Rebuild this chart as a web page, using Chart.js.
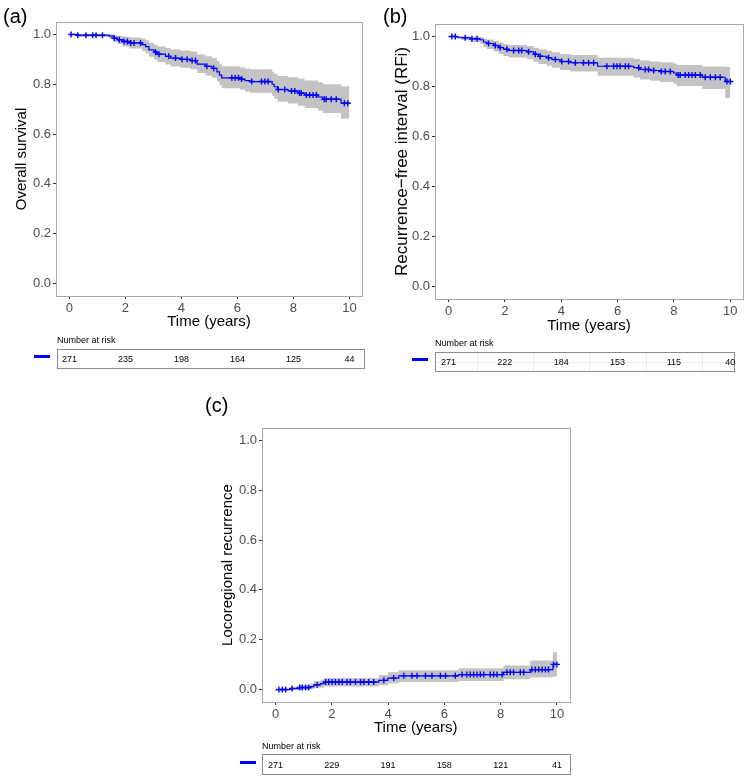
<!DOCTYPE html>
<html><head><meta charset="utf-8">
<script src="https://cdn.jsdelivr.net/npm/chart.js@4.4.0/dist/chart.umd.min.js"></script>
<style>
body{margin:0;background:#fff;width:750px;height:780px;position:relative;overflow:hidden;font-family:"Liberation Sans",Arial,sans-serif;color:#000;}
canvas{position:absolute;}
.lbl{position:absolute;font-size:20px;line-height:20px;}
.nar{position:absolute;font-size:9px;line-height:12px;}
.box{position:absolute;border:1px solid #8c8c8c;box-sizing:border-box;}
.num{position:absolute;font-size:9px;line-height:12px;transform:translate(-50%,-50%);white-space:nowrap;}
.dash{position:absolute;height:3px;background:#0000ff;}
.gl{position:absolute;background:#ececec;}
</style></head><body>
<script>
const F = '"Liberation Sans", Arial, sans-serif';
const xTicks = [0, 2, 4, 6, 8, 10];
const yTicks = [0, 0.2, 0.4, 0.6, 0.8, 1.0];
const riskTimes = [0, 2, 4, 6, 8, 10];

// (a) Overall survival
const osTime  = [0, 0.3, 1.42, 1.6, 1.72, 1.9, 2.13, 2.6, 2.72, 2.84, 3.02, 3.14, 3.43, 3.61, 3.96, 4.32, 4.56, 4.85, 5.09, 5.27, 5.36, 5.44, 6.09, 6.27, 6.45, 7.24, 7.31, 7.43, 7.81, 8.17, 8.4, 8.88, 9.05, 9.7, 10.0];
const osEst   = [1, .997, .993, .985, .979, .972, .966, .959, .951, .938, .929, .921, .912, .905, .900, .895, .881, .872, .864, .850, .837, .826, .821, .815, .811, .800, .790, .779, .773, .765, .757, .749, .740, .724, .724];
const osLower = [1, .990, .983, .970, .962, .952, .944, .934, .925, .910, .899, .889, .879, .871, .866, .860, .845, .835, .826, .810, .796, .784, .778, .771, .766, .754, .742, .730, .723, .714, .705, .695, .685, .663, .663];
const osUpper = [1, 1, 1, .998, .995, .992, .988, .983, .977, .967, .960, .953, .946, .940, .936, .932, .920, .912, .905, .893, .882, .872, .868, .863, .860, .850, .842, .833, .828, .822, .815, .808, .800, .792, .792];
const osCensor = [0.06, 0.30, 0.59, 0.83, 0.95, 1.18, 1.60, 1.78, 1.95, 2.07, 2.19, 2.31, 2.54, 3.08, 3.20, 3.55, 3.79, 4.02, 4.20, 4.38, 4.50, 4.91, 5.15, 5.80, 5.92, 6.04, 6.15, 6.51, 6.86, 6.98, 7.10, 7.46, 7.69, 7.93, 8.05, 8.22, 8.28, 8.46, 8.58, 8.70, 8.82, 9.10, 9.17, 9.35, 9.53, 9.82, 9.94];
const osRisk = [271, 235, 198, 164, 125, 44];

// (b) Recurrence-free interval
const rfTime  = [0, 0.3, 0.47, 0.77, 1.12, 1.24, 1.36, 1.6, 1.78, 1.95, 2.13, 2.78, 3.02, 3.2, 3.49, 3.67, 3.96, 4.32, 5.29, 6.57, 6.8, 7.16, 7.51, 7.99, 8.1, 9.0, 9.82, 10.0];
const rfEst   = [1, .997, .995, .991, .987, .978, .972, .964, .956, .949, .944, .939, .929, .921, .915, .908, .900, .895, .881, .875, .868, .864, .860, .854, .846, .837, .820, .820];
const rfLower = [1, .990, .986, .978, .970, .957, .950, .940, .930, .922, .916, .910, .899, .890, .883, .875, .866, .860, .843, .836, .828, .823, .818, .811, .802, .790, .754, .754];
const rfUpper = [1, 1, 1, 1, .998, .992, .988, .982, .976, .970, .966, .962, .955, .948, .943, .937, .930, .926, .915, .910, .904, .900, .897, .892, .886, .880, .878, .878];
const rfCensor = [0.12, 0.24, 0.59, 0.83, 1.01, 1.42, 1.66, 1.83, 2.07, 2.31, 2.49, 2.60, 2.84, 3.08, 3.25, 3.55, 3.79, 4.02, 4.26, 4.50, 4.79, 4.97, 5.15, 5.62, 5.86, 5.98, 6.09, 6.27, 6.39, 6.75, 6.98, 7.10, 7.28, 7.55, 7.69, 7.87, 8.15, 8.22, 8.40, 8.52, 8.64, 8.76, 8.93, 9.11, 9.29, 9.47, 9.64, 9.88, 10.0];
const rfRisk = [271, 222, 184, 153, 115, 40];

// (c) Locoregional recurrence
const lrTime  = [0, 0.53, 0.83, 1.24, 1.36, 1.6, 1.72, 3.67, 3.99, 4.38, 6.5, 8.1, 9.05, 9.86, 10.0];
const lrEst   = [0, .004, .008, .012, .019, .024, .030, .037, .046, .055, .060, .069, .080, .101, .101];
const lrLower = [0, 0, 0, .001, .005, .008, .012, .017, .024, .030, .034, .041, .048, .052, .052];
const lrUpper = [0, .011, .017, .023, .033, .039, .046, .058, .069, .077, .085, .097, .117, .150, .150];
const lrCensor = [0.12, 0.24, 0.36, 0.59, 0.86, 0.95, 1.07, 1.18, 1.48, 1.78, 1.89, 2.01, 2.13, 2.25, 2.37, 2.54, 2.66, 2.84, 3.02, 3.14, 3.31, 3.49, 3.85, 4.20, 4.56, 4.85, 5.03, 5.33, 5.56, 5.86, 6.04, 6.39, 6.63, 6.80, 6.92, 7.04, 7.16, 7.28, 7.40, 7.63, 7.75, 7.87, 8.05, 8.22, 8.34, 8.46, 8.70, 8.82, 9.11, 9.23, 9.35, 9.47, 9.59, 9.70, 9.88, 10.0];
const lrRisk = [271, 229, 191, 158, 121, 41];

function stepAt(times, vals, t) {
  let v = vals[0];
  for (let i = 0; i < times.length; i++) if (times[i] <= t) v = vals[i];
  return v;
}
function pts(times, vals) { return times.map((t, i) => ({x: t, y: vals[i]})); }

const boxPlugin = {
  id: 'panelBox',
  afterDatasetsDraw(chart) {
    const a = chart.chartArea, ctx = chart.ctx;
    ctx.save();
    ctx.strokeStyle = '#a8a8a8';
    ctx.lineWidth = 1;
    ctx.strokeRect(Math.round(a.left) + 0.5, Math.round(a.top) + 0.5, Math.round(a.right - a.left), Math.round(a.bottom - a.top));
    ctx.restore();
  }
};

function el(cls, style, text) {
  const d = document.createElement('div');
  d.className = cls;
  Object.assign(d.style, style);
  if (text !== undefined) d.textContent = text;
  document.body.appendChild(d);
  return d;
}

function makePanel(p) {
  const c = document.createElement('canvas');
  c.width = p.w; c.height = p.h;
  c.style.left = p.left + 'px'; c.style.top = p.top + 'px';
  c.style.width = p.w + 'px'; c.style.height = p.h + 'px';
  document.body.appendChild(c);
  const chart = new Chart(c, {
    type: 'scatter',
    data: {datasets: [
      {data: pts(p.time, p.lower), order: 4, showLine: true, stepped: true, borderColor: 'rgba(0,0,0,0)', borderWidth: 0, pointRadius: 0, fill: false},
      {data: pts(p.time, p.upper), order: 3, showLine: true, stepped: true, borderColor: 'rgba(0,0,0,0)', borderWidth: 0, pointRadius: 0, fill: '-1', backgroundColor: '#c3c3c3'},
      {data: pts(p.time, p.est), order: 2, showLine: true, stepped: true, borderColor: '#0000ff', borderWidth: 1.2, pointRadius: 0, fill: false},
      {data: p.censor.map(t => ({x: t, y: stepAt(p.time, p.est, t)})), order: 1, showLine: false, pointStyle: 'cross', pointRadius: 3, borderColor: '#0000ff', backgroundColor: '#0000ff', borderWidth: 1.4}
    ]},
    options: {
      animation: false, responsive: false, events: [],
      plugins: {legend: {display: false}, tooltip: {enabled: false}},
      layout: {padding: {top: p.padTop, right: p.padRight, left: 0, bottom: 0}},
      scales: {
        x: {
          type: 'linear', min: -0.48, max: 10.45,
          afterBuildTicks: s => { s.ticks = xTicks.map(v => ({value: v})); },
          afterFit: s => { s.height = 44; },
          grid: {drawOnChartArea: false, drawTicks: true, tickLength: 3, color: '#333'},
          border: {display: false},
          ticks: {padding: 2, color: '#4d4d4d', font: {size: 13, family: F}, callback: v => String(v), maxRotation: 0},
          title: {display: true, text: 'Time (years)', color: '#000', font: {size: 15, family: F}, padding: {top: 0, bottom: p.xTitlePad}}
        },
        y: {
          type: 'linear', min: -0.05, max: 1.05,
          afterBuildTicks: s => { s.ticks = yTicks.map(v => ({value: v})); },
          afterFit: s => { s.width = p.yWidth; },
          grid: {drawOnChartArea: false, drawTicks: true, tickLength: 3, color: '#333'},
          border: {display: false},
          ticks: {padding: 2, color: '#4d4d4d', font: {size: 13, family: F}, callback: v => Number(v).toFixed(1)},
          title: {display: true, text: p.yTitle, color: '#000', font: {size: p.yTitleSize, family: F}, padding: {top: p.yTitlePad, bottom: 0}}
        }
      }
    },
    plugins: [boxPlugin]
  });
  el('lbl', {left: p.tag.x + 'px', top: p.tag.y + 'px'}, p.tag.text);
  el('nar', {left: p.risk.x + 'px', top: (p.risk.narY - 6) + 'px'}, 'Number at risk');
  el('box', {left: p.risk.x + 'px', top: p.risk.y + 'px', width: p.risk.w + 'px', height: p.risk.h + 'px'});
  if (p.risk.grid) {
    const xs = chart.scales.x;
    [1, 3, 5, 7, 9].forEach(t => {
      el('gl', {left: Math.round(p.left + xs.getPixelForValue(t)) + 'px', top: (p.risk.y + 1) + 'px', width: '1px', height: (p.risk.h - 2) + 'px'});
    });
    el('gl', {left: (p.risk.x + 1) + 'px', top: (p.risk.y + Math.round(p.risk.h / 2)) + 'px', width: (p.risk.w - 2) + 'px', height: '1px'});
  }
  riskTimes.forEach((t, i) => {
    const px = p.left + chart.scales.x.getPixelForValue(t);
    el('num', {left: px + 'px', top: (p.risk.y + p.risk.h / 2) + 'px'}, String(p.riskVals[i]));
  });
  el('dash', {left: p.risk.dashX + 'px', top: (p.risk.y + p.risk.h / 2 - 4) + 'px', width: '16px'});
}

makePanel({left: 0, top: 0, w: 370, h: 340, padTop: 22, padRight: 8, yWidth: 56, xTitlePad: 9, yTitlePad: 13, yTitleSize: 15,
  yTitle: 'Overall survival', time: osTime, est: osEst, lower: osLower, upper: osUpper, censor: osCensor, riskVals: osRisk,
  tag: {text: '(a)', x: 3, y: 6},
  risk: {x: 57, y: 349, w: 308, h: 20, narY: 340, dashX: 34, grid: false}});

makePanel({left: 380, top: 0, w: 370, h: 343, padTop: 24, padRight: 7, yWidth: 55, xTitlePad: 8, yTitlePad: 12, yTitleSize: 17,
  yTitle: 'Recurrence\u2212free interval (RFi)', time: rfTime, est: rfEst, lower: rfLower, upper: rfUpper, censor: rfCensor, riskVals: rfRisk,
  tag: {text: '(b)', x: 383, y: 6},
  risk: {x: 435, y: 352, w: 300, h: 20, narY: 343, dashX: 412, grid: true}});

makePanel({left: 205, top: 380, w: 370, h: 366, padTop: 48, padRight: 4, yWidth: 57, xTitlePad: 9, yTitlePad: 14, yTitleSize: 15,
  yTitle: 'Locoregional recurrence', time: lrTime, est: lrEst, lower: lrLower, upper: lrUpper, censor: lrCensor, riskVals: lrRisk,
  tag: {text: '(c)', x: 205, y: 395},
  risk: {x: 262, y: 754, w: 309, h: 21, narY: 746, dashX: 240, grid: false}});
</script>
</body></html>
